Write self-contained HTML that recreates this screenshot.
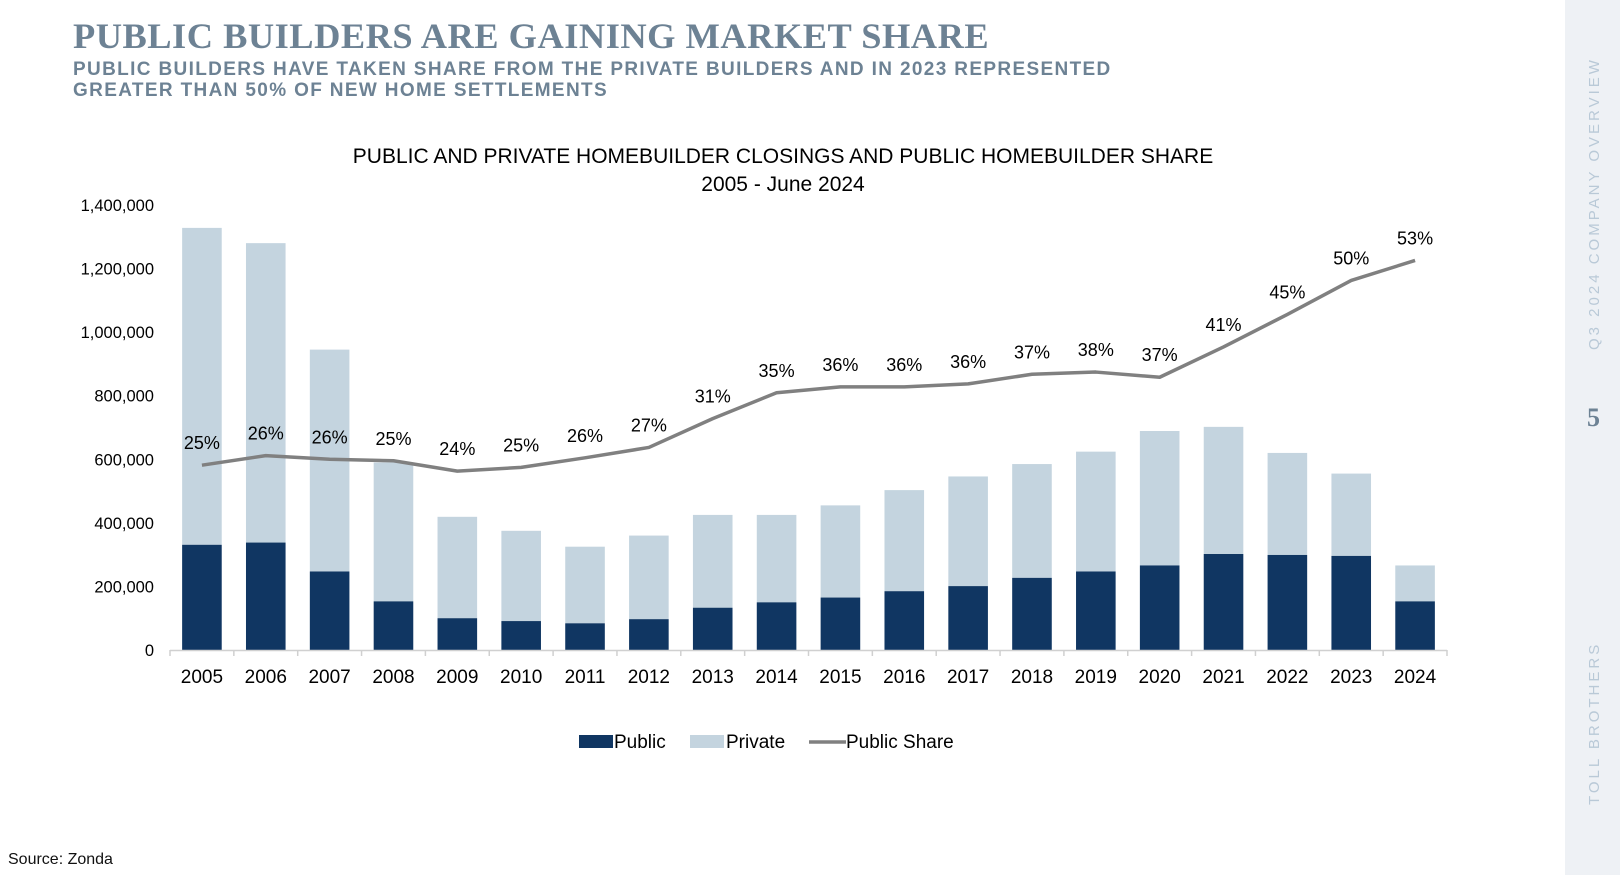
<!DOCTYPE html>
<html><head><meta charset="utf-8"><style>
html,body{margin:0;padding:0;background:#fff;}
body{width:1620px;height:875px;position:relative;overflow:hidden;font-family:"Liberation Sans",sans-serif;}
#side{position:absolute;left:1565px;top:0;width:55px;height:875px;background:#eef1f5;}
.vt{position:absolute;color:#b9c9d7;font-size:15px;letter-spacing:3px;white-space:nowrap;writing-mode:vertical-rl;transform:rotate(180deg);left:21px;}
</style></head><body>
<div id="title" style="position:absolute;left:73px;top:15px;font-family:'Liberation Serif',serif;font-weight:bold;font-size:36.4px;color:#6d8294;letter-spacing:0.5px;">PUBLIC BUILDERS ARE GAINING MARKET SHARE</div>
<div style="position:absolute;left:73px;top:59px;font-size:19px;line-height:21px;color:#6d8294;letter-spacing:1.35px;font-weight:bold;">PUBLIC BUILDERS HAVE TAKEN SHARE FROM THE PRIVATE BUILDERS AND IN 2023 REPRESENTED<br>GREATER THAN 50% OF NEW HOME SETTLEMENTS</div>
<div style="position:absolute;left:8px;top:851px;font-size:16px;color:#111;">Source: Zonda</div>
<div id="side">
  <div class="vt" style="top:46px;height:316px;text-align:center;">Q3 2024 COMPANY OVERVIEW</div>
  <div style="position:absolute;left:22px;top:403px;font-family:'Liberation Serif',serif;font-weight:bold;font-size:26px;color:#6d8294;">5</div>
  <div class="vt" style="top:640px;height:166px;text-align:center;">TOLL BROTHERS</div>
</div>
<svg id="chart" width="1564" height="875" style="position:absolute;left:0;top:0;font-family:'Liberation Sans',sans-serif;"></svg>
<script>
const years=["2005","2006","2007","2008","2009","2010","2011","2012","2013","2014","2015","2016","2017","2018","2019","2020","2021","2022","2023","2024"];
const totalClosings=[1328000,1280000,945000,590000,419000,375000,325000,360000,425000,425000,455000,503000,546000,585000,624000,689000,702000,620000,555000,266000];
const publicClosings=[331000,338000,247000,153000,100000,91000,84000,97000,133000,150000,165000,185000,201000,227000,247000,266000,302000,299000,296000,153000];
const publicShare=[25,26.3,25.8,25.6,24.2,24.7,26,27.4,31.3,34.8,35.6,35.6,36,37.3,37.6,36.9,41,45.4,50,52.7];
const shareLabels=["25%","26%","26%","25%","24%","25%","26%","27%","31%","35%","36%","36%","36%","37%","38%","37%","41%","45%","50%","53%"];
const yTicks=[0,200000,400000,600000,800000,1000000,1200000,1400000];

const svg=document.getElementById('chart');
const NS='http://www.w3.org/2000/svg';
const x0=170,x1=1447,yBase=650,yTop=205,yMax=1400000,shareMax=60.2;
const step=(x1-x0)/years.length;
const xc=i=>x0+step*(i+0.5);
const yv=v=>yBase-(v/yMax)*(yBase-yTop);
const ys=p=>yBase-(p/shareMax)*(yBase-yTop);
function mk(tag,attrs,text){const e=document.createElementNS(NS,tag);for(const k in attrs)e.setAttribute(k,attrs[k]);if(text!==undefined)e.textContent=text;svg.appendChild(e);return e;}

let t=mk('text',{x:783,y:163,'text-anchor':'middle','font-size':21,fill:'#000'},'PUBLIC AND PRIVATE HOMEBUILDER CLOSINGS AND PUBLIC HOMEBUILDER SHARE');


t=mk('text',{x:783,y:191,'text-anchor':'middle','font-size':21,fill:'#000'},'2005 - June 2024');



yTicks.forEach(v=>{
  const e=mk('text',{x:154,y:yv(v)+6,'text-anchor':'end','font-size':16.5,fill:'#000'},v.toLocaleString('en-US'));
  
  
});
const bw=step*0.62;
years.forEach((yr,i)=>{
  const cx=xc(i);
  const r1=mk('rect',{x:cx-bw/2,y:yv(totalClosings[i]),width:bw,height:yv(publicClosings[i])-yv(totalClosings[i]),fill:'#c4d4df'});
  
  
  const r2=mk('rect',{x:cx-bw/2,y:yv(publicClosings[i]),width:bw,height:yBase-yv(publicClosings[i]),fill:'#103662'});
  
  
  const l=mk('text',{x:cx,y:683,'text-anchor':'middle','font-size':19,fill:'#000'},yr);
  
  
});
const ax=mk('line',{x1:x0,y1:yBase+0.5,x2:x1,y2:yBase+0.5,stroke:'#d0d0d0','stroke-width':1.5});


for(let i=0;i<=years.length;i++){
  const tk=mk('line',{x1:x0+step*i,y1:yBase,x2:x0+step*i,y2:yBase+6,stroke:'#d0d0d0','stroke-width':1.5});
  
  
}
const pts=publicShare.map((p,i)=>xc(i)+','+ys(p)).join(' ');
const pl=mk('polyline',{points:pts,fill:'none',stroke:'#808080','stroke-width':3.5,'stroke-linejoin':'round'});


publicShare.forEach((p,i)=>{
  const e=mk('text',{x:xc(i),y:ys(p)-16,'text-anchor':'middle','font-size':18,fill:'#000'},shareLabels[i]);
  
  
});
let g=mk('rect',{x:579,y:735,width:34,height:13,fill:'#103662'});


g=mk('text',{x:614,y:748,'font-size':19,fill:'#000'},'Public');


g=mk('rect',{x:690,y:735,width:34,height:13,fill:'#c4d4df'});


g=mk('text',{x:726,y:748,'font-size':19,fill:'#000'},'Private');


g=mk('line',{x1:809,y1:742,x2:846,y2:742,stroke:'#808080','stroke-width':3.5});


g=mk('text',{x:846,y:748,'font-size':19,fill:'#000'},'Public Share');


</script>
</body></html>
